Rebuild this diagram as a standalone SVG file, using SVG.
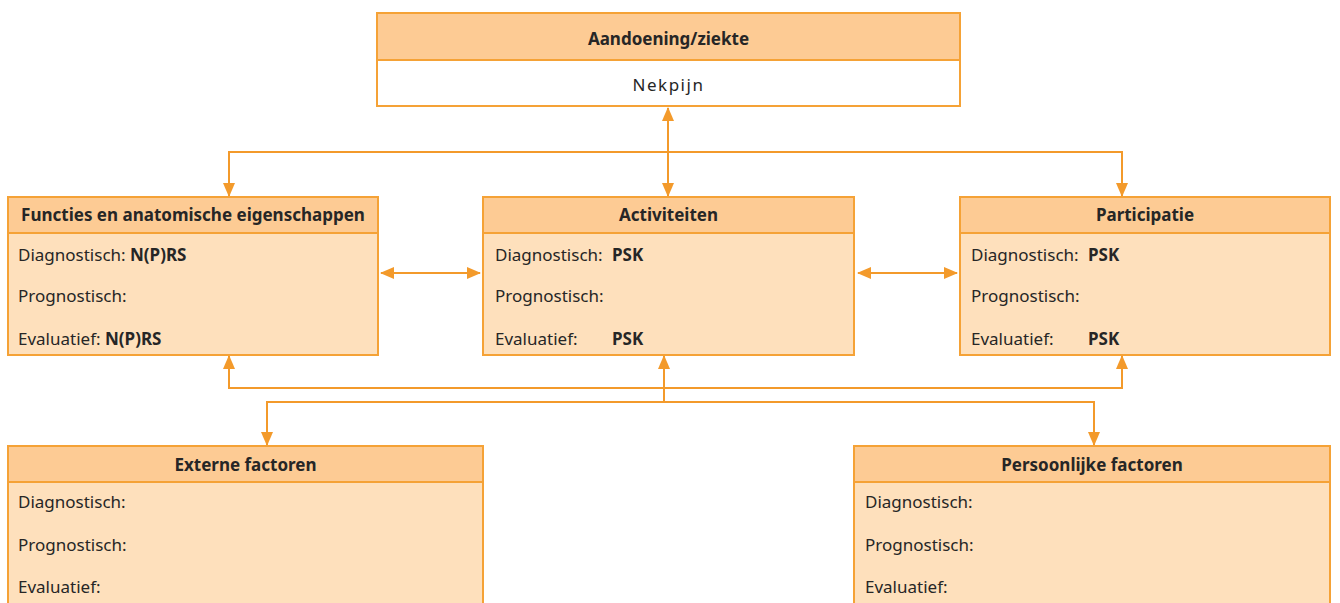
<svg xmlns="http://www.w3.org/2000/svg" width="1340" height="603" viewBox="0 0 1340 603">
<defs>
<marker id="ah" viewBox="0 0 14 12" refX="13" refY="6" markerWidth="14" markerHeight="12" markerUnits="userSpaceOnUse" orient="auto-start-reverse">
<path d="M0,0 L14,6 L0,12 Z" fill="#F39A2B"/>
</marker>
</defs>
<style>
.hd{fill:#FDCB94;stroke:#F5A236;stroke-width:2}
.bd{fill:#FEE0BC;stroke:#F5A236;stroke-width:2}
.wb{fill:#FFFFFF;stroke:#F5A236;stroke-width:2}
.t{font-family:"Noto Sans","Open Sans",sans-serif;font-size:17px;fill:#262626}
.b{font-weight:bold}
.c{text-anchor:middle}
.ln{fill:none;stroke:#F39A2B;stroke-width:2}
</style>
<g id="connectors">
<line class="ln" x1="668" y1="108" x2="668" y2="196" marker-start="url(#ah)" marker-end="url(#ah)"/>
<polyline class="ln" points="229,196 229,152 1122,152 1122,196" marker-start="url(#ah)" marker-end="url(#ah)"/>
<line class="ln" x1="381" y1="273" x2="480" y2="273" marker-start="url(#ah)" marker-end="url(#ah)"/>
<line class="ln" x1="858" y1="273" x2="957" y2="273" marker-start="url(#ah)" marker-end="url(#ah)"/>
<polyline class="ln" points="229,356 229,388 1122,388 1122,356" marker-start="url(#ah)" marker-end="url(#ah)"/>
<line class="ln" x1="664" y1="402" x2="664" y2="356" marker-end="url(#ah)"/>
<polyline class="ln" points="267,445 267,402 1094,402 1094,445" marker-start="url(#ah)" marker-end="url(#ah)"/>
</g>
<g id="aandoening">
<rect class="hd" x="377" y="13" width="583" height="47"/>
<rect class="wb" x="377" y="60" width="583" height="46"/>
<text class="t b c" x="668.5" y="45">Aandoening/ziekte</text>
<text class="t c" x="668.5" y="91" letter-spacing="1.5">Nekpijn</text>
</g>
<g id="functies">
<rect class="bd" x="8" y="233" width="370" height="122"/>
<rect class="hd" x="8" y="197" width="370" height="36"/>
<text class="t b c" x="193" y="221">Functies en anatomische eigenschappen</text>
<text class="t" x="18" y="261">Diagnostisch: <tspan class="b">N(P)RS</tspan></text>
<text class="t" x="18" y="302">Prognostisch:</text>
<text class="t" x="18" y="345">Evaluatief: <tspan class="b">N(P)RS</tspan></text>
</g>
<g id="activiteiten">
<rect class="bd" x="483" y="233" width="371" height="122"/>
<rect class="hd" x="483" y="197" width="371" height="36"/>
<text class="t b c" x="668.5" y="221">Activiteiten</text>
<text class="t" x="495" y="261">Diagnostisch:</text>
<text class="t b" x="612" y="261">PSK</text>
<text class="t" x="495" y="302">Prognostisch:</text>
<text class="t" x="495" y="345">Evaluatief:</text>
<text class="t b" x="612" y="345">PSK</text>
</g>
<g id="participatie">
<rect class="bd" x="960" y="233" width="370" height="122"/>
<rect class="hd" x="960" y="197" width="370" height="36"/>
<text class="t b c" x="1145" y="221">Participatie</text>
<text class="t" x="971" y="261">Diagnostisch:</text>
<text class="t b" x="1088" y="261">PSK</text>
<text class="t" x="971" y="302">Prognostisch:</text>
<text class="t" x="971" y="345">Evaluatief:</text>
<text class="t b" x="1088" y="345">PSK</text>
</g>
<g id="externe">
<rect class="bd" x="8" y="482" width="475" height="130"/>
<rect class="hd" x="8" y="446" width="475" height="36"/>
<text class="t b c" x="245.5" y="471">Externe factoren</text>
<text class="t" x="18" y="508">Diagnostisch:</text>
<text class="t" x="18" y="551">Prognostisch:</text>
<text class="t" x="18" y="593">Evaluatief:</text>
</g>
<g id="persoonlijke">
<rect class="bd" x="854" y="482" width="476" height="130"/>
<rect class="hd" x="854" y="446" width="476" height="36"/>
<text class="t b c" x="1092" y="471">Persoonlijke factoren</text>
<text class="t" x="865" y="508">Diagnostisch:</text>
<text class="t" x="865" y="551">Prognostisch:</text>
<text class="t" x="865" y="593">Evaluatief:</text>
</g>
</svg>
